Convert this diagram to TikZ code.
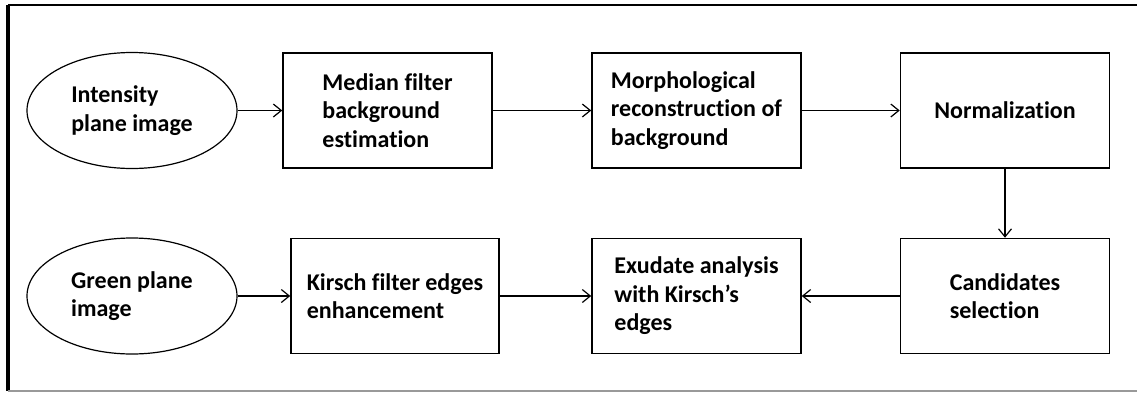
\documentclass[tikz,border=0pt]{standalone}
\usepackage{fontspec}
\setmainfont{Carlito}[Ligatures=NoCommon]
\usetikzlibrary{shapes.geometric,arrows.meta}
\tikzset{
  stepbox/.style={draw, line width=0.75pt, rectangle, minimum width=104.5pt, minimum height=57.5pt, inner sep=0pt, align=left, font=\fontsize{12}{14.2}\selectfont\bfseries},
  inbox/.style={draw, line width=0.6pt, ellipse, minimum width=105pt, minimum height=58pt, inner sep=0pt, align=left, font=\fontsize{12}{14.2}\selectfont\bfseries},
  flow/.style={line width=0.6pt, -{Straight Barb[length=4pt,width=6.5pt,line width=0.6pt]}}
}
\begin{document}
\begin{tikzpicture}[x=0.5pt,y=-0.5pt]
\useasboundingbox (0,0) rectangle (1137,392);
% frame
\draw[line width=1.2pt] (8,5) -- (1137,5);
\draw[line width=1.6pt] (8,4.5) -- (8,391);
\draw[line width=0.6pt, black!40] (8,391) -- (1137,391);
% nodes
\node[inbox] (e1) at (132,110.5) {Intensity\\plane image};
\node[stepbox] (b1) at (387.5,110.5) {Median filter\\background\\estimation};
\node[stepbox] (b2) at (696.5,110.5) {Morphological\\reconstruction of\\background};
\node[stepbox] (b3) at (1005,110.5) {Normalization};
\node[inbox] (e2) at (132,296) {Green plane\\image};
\node[stepbox, minimum width=104pt] (b4) at (395,296) {Kirsch filter edges\\enhancement};
\node[stepbox] (b5) at (696.5,296) {Exudate analysis\\with Kirsch’s\\edges};
\node[stepbox] (b6) at (1005,296) {Candidates\\selection};
% connectors
\draw[flow] (e1) -- (b1);
\draw[flow] (b1) -- (b2);
\draw[flow] (b2) -- (b3);
\draw[flow] (b3) -- (b6);
\draw[flow] (e2) -- (b4);
\draw[flow] (b4) -- (b5);
\draw[flow] (b6) -- (b5);
\end{tikzpicture}
\end{document}
